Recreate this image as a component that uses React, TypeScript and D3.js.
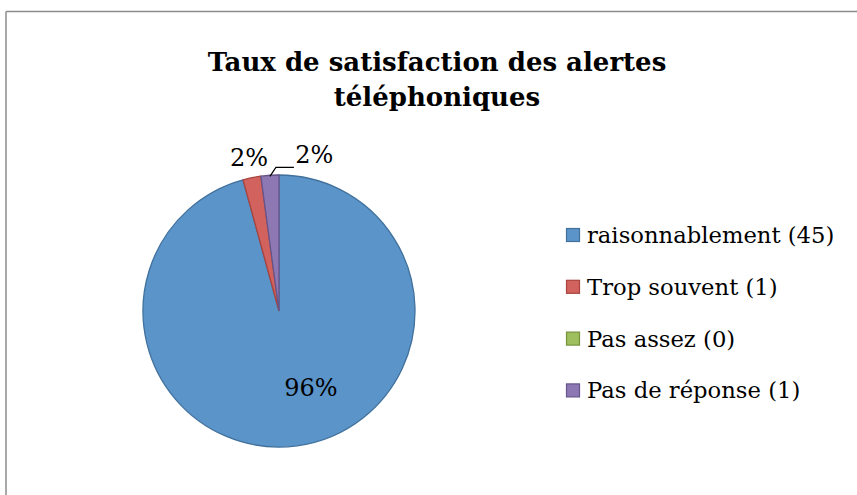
import React from 'react';
import * as d3 from 'd3';

const categories = ['raisonnablement', 'Trop souvent', 'Pas assez', 'Pas de réponse'];
const counts = [45, 1, 0, 1];
const colors = ['#5b94c9', '#d2625d', '#9fbf5e', '#8d78b3'];
const strokes = ['#41719c', '#a9443f', '#76923c', '#66558a'];
const titleLines = ['Taux de satisfaction des alertes', 'téléphoniques'];

const W = 857, H = 495;
const cx = 279, cy = 311, R = 136;
const FONT = '"DejaVu Serif", serif';

// manual nudges for the data labels, like Excel places them
const labelNudge = [[21, -4], [2, 4], [0, 0], [46, 4]];

export default function App() {
  const total = d3.sum(counts);
  const pie = d3.pie<number>().sort(null).value(d => d);
  const arcs = pie(counts);
  const arc = d3.arc<d3.PieArcDatum<number>>().innerRadius(0).outerRadius(R);
  const pct = d3.format('.0%');

  const inner = d3.arc<d3.PieArcDatum<number>>().innerRadius(R * 0.6).outerRadius(R * 0.6);
  const outer = d3.arc<d3.PieArcDatum<number>>().innerRadius(R + 24).outerRadius(R + 24);
  const rim = d3.arc<d3.PieArcDatum<number>>().innerRadius(R).outerRadius(R);

  return (
    <svg width={W} height={H} style={{ position: 'absolute', left: 0, top: 0, background: '#fff' }}>
      <line x1={6} y1={H} x2={6} y2={11.5} stroke="#8c8c8c" strokeWidth={1.5} />
      <line x1={6} y1={11.5} x2={W} y2={11.5} stroke="#8c8c8c" strokeWidth={1.5} />
      {titleLines.map((t, i) => (
        <text key={t} x={437} y={71 + i * 34.5} textAnchor="middle" fontFamily={FONT}
          fontWeight="bold" fontSize={26} fill="#000">{t}</text>
      ))}
      <g transform={`translate(${cx},${cy})`}>
        {arcs.map((a, i) => counts[i] > 0 && (
          <path key={i} d={arc(a) || ''} fill={colors[i]} stroke={strokes[i]} strokeWidth={1.3} />
        ))}
        {arcs.map((a, i) => {
          if (counts[i] === 0) return null;
          const share = counts[i] / total;
          const big = share > 0.5;
          const [x, y] = big ? inner.centroid(a) : outer.centroid(a);
          return (
            <text key={'l' + i} x={x + labelNudge[i][0]} y={y + labelNudge[i][1]} textAnchor="middle"
              dominantBaseline="central" fontFamily={FONT} fontSize={24} fill="#000">{pct(share)}</text>
          );
        })}
        {(() => {
          const [ex, ey] = rim.centroid(arcs[3]);
          return (
            <polyline points={`${ex},${ey + 1} ${ex + 6},${ey - 8} ${ex + 24},${ey - 8}`}
              fill="none" stroke="#000" strokeWidth={1.2} />
          );
        })()}
      </g>
      {categories.map((c, i) => (
        <g key={c} transform={`translate(566,${235 + i * 51.8})`}>
          <rect x={0.5} y={-6.5} width={13} height={13} fill={colors[i]} stroke={strokes[i]} strokeWidth={1.2} />
          <text x={21} y={0} dominantBaseline="central" fontFamily={FONT} fontSize={22.7} fill="#000">
            {`${c} (${counts[i]})`}
          </text>
        </g>
      ))}
    </svg>
  );
}
